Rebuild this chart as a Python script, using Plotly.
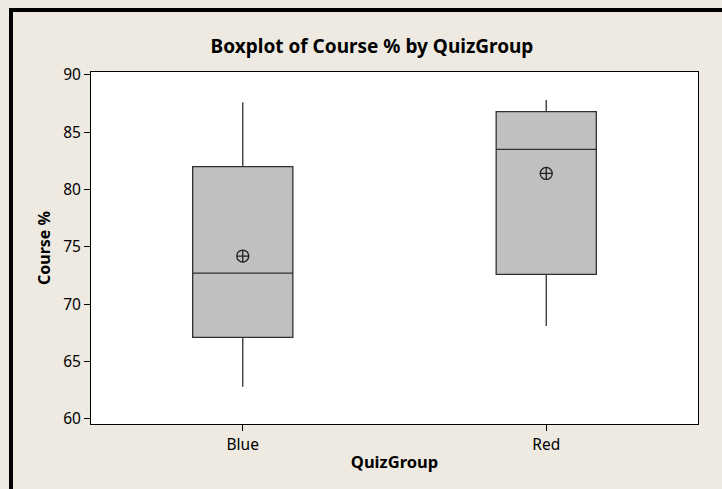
import plotly.graph_objects as go

groups = ["Blue", "Red"]
q1 = [67.1, 72.6]
medians = [72.7, 83.5]
q3 = [82.0, 86.8]
lower_whisker = [62.8, 68.1]
upper_whisker = [87.6, 87.8]
means = [74.2, 81.4]

bg = "#EEEAE1"
font_main = "Noto Sans, DejaVu Sans, sans-serif"

fig = go.Figure()

fig.add_trace(go.Box(
    x=groups,
    q1=q1,
    median=medians,
    q3=q3,
    lowerfence=lower_whisker,
    upperfence=upper_whisker,
    fillcolor="#C0C0C0",
    line=dict(color="#303030", width=1.3),
    whiskerwidth=0,
    width=0.33,
    boxpoints=False,
    showlegend=False,
))

# media con símbolo de círculo con cruz
fig.add_trace(go.Scatter(
    x=groups,
    y=means,
    mode="markers",
    marker=dict(symbol="circle-cross-open", size=12, color="#202020",
                line=dict(width=1.3, color="#202020")),
    showlegend=False,
))

W, H = 722, 489
L, R, T, B = 91, 24, 72, 65
pw, ph = W - L - R, H - T - B


def px_x(p):
    return (p - L) / pw


def px_y(p):
    return (H - B - p) / ph


# borde negro grueso (arriba e izquierda)
fig.add_shape(type="line", xref="paper", yref="paper",
              x0=px_x(11), x1=px_x(740), y0=px_y(10), y1=px_y(10),
              line=dict(color="black", width=4))
fig.add_shape(type="line", xref="paper", yref="paper",
              x0=px_x(11), x1=px_x(11), y0=px_y(8), y1=px_y(500),
              line=dict(color="black", width=4))

fig.update_layout(
    width=W, height=H,
    margin=dict(l=L, r=R, t=T, b=B),
    paper_bgcolor=bg,
    plot_bgcolor="white",
    font=dict(family=font_main, size=15.5, color="black"),
    title=dict(
        text="<b>Boxplot of Course % by QuizGroup</b>",
        x=372 / W, xanchor="center",
        y=1 - 46 / H, yanchor="middle", yref="container",
        font=dict(size=19, color="black"),
    ),
    xaxis=dict(
        type="category",
        range=[-0.5, 1.5],
        showline=True, linecolor="black", linewidth=1, mirror=True,
        ticks="outside", ticklen=6, tickcolor="black",
        showgrid=False, zeroline=False,
        title=dict(text="<b>QuizGroup</b>", standoff=2, font=dict(size=16.5)),
    ),
    yaxis=dict(
        range=[59.55, 90.25],
        tickvals=[60, 65, 70, 75, 80, 85, 90],
        showline=True, linecolor="black", linewidth=1, mirror=True,
        ticks="outside", ticklen=6, tickcolor="black",
        showgrid=False, zeroline=False,
        title=dict(text="<b>Course %</b>", standoff=8, font=dict(size=16)),
    ),
)

fig.write_html("out.html", config={"displayModeBar": False},
               post_script="document.body.style.margin='0';")
